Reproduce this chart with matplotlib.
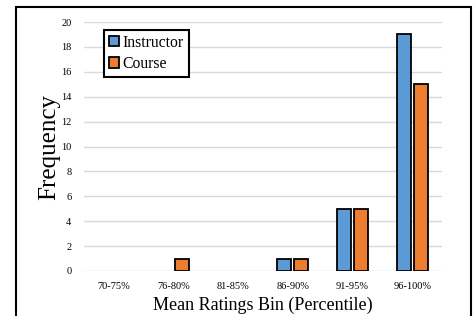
import matplotlib.pyplot as plt
import matplotlib.patches as mpatches
import numpy as np

bins = ["70-75%", "76-80%", "81-85%", "86-90%", "91-95%", "96-100%"]
instructor = [0, 0, 0, 1, 5, 19]
course = [0, 1, 0, 1, 5, 15]
yticks = [0, 2, 4, 6, 8, 10, 12, 14, 16, 18, 20]

blue = "#5B9BD5"
orange = "#ED7D31"

plt.rcParams["font.family"] = ["Liberation Serif", "DejaVu Serif"]

fig = plt.figure(figsize=(4.77, 3.16), dpi=100)
ax = fig.add_axes([84 / 477, 1 - 271 / 316, 358 / 477, 249 / 316])

x = np.arange(len(bins))
w = 0.235
off = 0.145
b1 = ax.bar(x - off, instructor, w, color=blue, edgecolor="black",
            linewidth=1.3, zorder=3)
b2 = ax.bar(x + off, course, w, color=orange, edgecolor="black",
            linewidth=1.3, zorder=3)
# hide empty bins (no flat outline at zero)
for bar in list(b1) + list(b2):
    if bar.get_height() == 0:
        bar.set_visible(False)

ax.set_xlim(-0.5, len(bins) - 0.5)
ax.set_ylim(0, 20)
ax.set_yticks(yticks)
ax.set_xticks(x)
ax.set_xticklabels(bins)
ax.tick_params(axis="both", length=0, labelsize=7.5)
ax.tick_params(axis="x", pad=8)
ax.tick_params(axis="y", pad=9)
ax.grid(axis="y", color="#d9d9d9", linewidth=1.0, zorder=0)
for s in ax.spines.values():
    s.set_visible(False)

ax.set_ylabel("Frequency", fontsize=18, labelpad=1)
ax.set_xlabel("Mean Ratings Bin (Percentile)", fontsize=13, labelpad=4)

handles = [
    mpatches.Patch(facecolor=blue, edgecolor="black", linewidth=1.3, label="Instructor"),
    mpatches.Patch(facecolor=orange, edgecolor="black", linewidth=1.3, label="Course"),
]
leg = ax.legend(handles=handles, loc="upper left",
                bbox_to_anchor=(20 / 358, 241 / 249),
                borderaxespad=0, fontsize=11.3, fancybox=False,
                handlelength=0.65, handleheight=0.65, handletextpad=0.25,
                labelspacing=0.35, borderpad=0.3, framealpha=1)
leg.get_frame().set_edgecolor("black")
leg.get_frame().set_linewidth(1.5)

frame = mpatches.Rectangle((16 / 477, -0.2), 455 / 477, 1.2 - 7 / 316,
                           transform=fig.transFigure, fill=False,
                           edgecolor="black", linewidth=1.5, clip_on=False)
fig.patches.append(frame)

fig.savefig("out.png", dpi=100)
